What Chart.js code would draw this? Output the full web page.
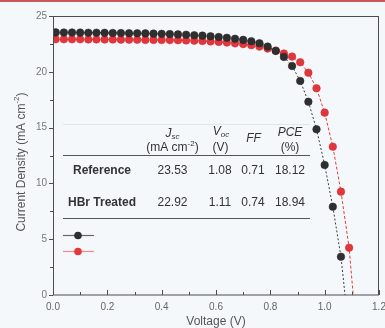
<!DOCTYPE html>
<html>
<head>
<meta charset="utf-8">
<script src="https://cdn.jsdelivr.net/npm/chart.js@4.4.1/dist/chart.umd.min.js"></script>
<style>
  html, body { margin: 0; padding: 0; background: #f5f8fb; }
  #wrap { position: relative; width: 385px; height: 328px; overflow: hidden; }
  #bar { position: absolute; left: 0; top: 0; width: 385px; height: 2px; background: #c9585b; }
  canvas { position: absolute; left: 0; top: 0; }
</style>
</head>
<body>
<div id="wrap">
  <canvas id="jvChart" width="385" height="328"></canvas>
  <div id="bar"></div>
</div>
<script>
// J-V curves, voltage in V, current density in mA cm-2 (last entry = line end at Voc)
const refVoltage = [0.01, 0.04, 0.07, 0.10, 0.13, 0.16, 0.19, 0.22, 0.25, 0.28,
                    0.31, 0.34, 0.37, 0.40, 0.43, 0.46, 0.49, 0.52, 0.55, 0.58,
                    0.61, 0.64, 0.67, 0.70, 0.73, 0.76, 0.79, 0.82, 0.85, 0.88,
                    0.91, 0.94, 0.97, 1.00, 1.03, 1.06, 1.075];
const refCurrent = [23.53, 23.52, 23.52, 23.51, 23.50, 23.50, 23.49, 23.48, 23.47, 23.46,
                    23.45, 23.44, 23.42, 23.40, 23.38, 23.35, 23.32, 23.28, 23.24, 23.18,
                    23.12, 23.05, 22.96, 22.86, 22.74, 22.56, 22.26, 21.87, 21.33, 20.52,
                    19.18, 17.32, 14.85, 11.65, 7.91, 3.43, 0];
const hbrVoltage = [0.01, 0.04, 0.07, 0.10, 0.13, 0.16, 0.19, 0.22, 0.25, 0.28,
                    0.31, 0.34, 0.37, 0.40, 0.43, 0.46, 0.49, 0.52, 0.55, 0.58,
                    0.61, 0.64, 0.67, 0.70, 0.73, 0.76, 0.79, 0.82, 0.85, 0.88,
                    0.91, 0.94, 0.97, 1.00, 1.03, 1.06, 1.09, 1.105];
const hbrCurrent = [22.92, 22.92, 22.91, 22.91, 22.90, 22.90, 22.89, 22.89, 22.88, 22.88,
                    22.87, 22.86, 22.86, 22.85, 22.84, 22.83, 22.81, 22.79, 22.76, 22.72,
                    22.68, 22.62, 22.55, 22.48, 22.38, 22.26, 22.08, 21.90, 21.64, 21.36,
                    20.86, 19.92, 18.52, 16.34, 13.29, 9.26, 4.24, 0];

// axis ticks
const xTickValues = [0, 0.2, 0.4, 0.6, 0.8, 1.0, 1.2];
const xTickLabels = ['0.0', '0.2', '0.4', '0.6', '0.8', '1.0', '1.2'];
const yTickValues = [0, 5, 10, 15, 20, 25];
const yTickLabels = ['0', '5', '10', '15', '20', '25'];

// inset table
const tableSamples = ['Reference', 'HBr Treated'];
const jscValues = ['23.53', '22.92'];
const vocValues = ['1.08', '1.11'];
const ffValues = ['0.71', '0.74'];
const pceValues = ['18.12', '18.94'];

const FONT = '"Liberation Sans", Arial, Helvetica, sans-serif';
const BLACK = '#2f2f2f';
const RED = '#e2363c';

function toPoints(xs, ys) {
    return xs.map((v, i) => ({ x: v, y: ys[i] }));
}

// draws "base" + small sub/superscript pieces, centred at cx
function richText(ctx, parts, cx, cy) {
    let total = 0;
    parts.forEach(p => { ctx.font = p.font; p.w = ctx.measureText(p.t).width; total += p.w; });
    let px = cx - total / 2;
    parts.forEach(p => {
        ctx.font = p.font;
        ctx.fillText(p.t, px, cy + (p.dy || 0));
        px += p.w;
    });
}

const decor = {
    id: 'decor',
    afterDraw(chart) {
        const ctx = chart.ctx;
        const a = chart.chartArea;
        const xs = chart.scales.x;
        const ys = chart.scales.y;
        ctx.save();

        // frame
        ctx.strokeStyle = '#4d4d4d';
        ctx.lineWidth = 1;
        ctx.strokeRect(a.left + 0.5, a.top + 0.5, a.right - a.left - 1, a.bottom - a.top - 0.5);

        // y ticks (outward), majors and minors
        ctx.beginPath();
        yTickValues.forEach((v, i) => {
            const py = Math.round(ys.getPixelForValue(v)) + 0.5;
            ctx.moveTo(a.left - 4, py); ctx.lineTo(a.left, py);
            if (i < yTickValues.length - 1) {
                const pm = Math.round(ys.getPixelForValue((v + yTickValues[i + 1]) / 2)) + 0.5;
                ctx.moveTo(a.left - 3, pm); ctx.lineTo(a.left, pm);
            }
        });
        // x ticks (inward)
        xTickValues.forEach((v, i) => {
            const px = Math.round(xs.getPixelForValue(v)) + 0.5;
            ctx.moveTo(px, a.bottom); ctx.lineTo(px, a.bottom - 5);
            if (i < xTickValues.length - 1) {
                const pm = Math.round(xs.getPixelForValue((v + xTickValues[i + 1]) / 2)) + 0.5;
                ctx.moveTo(pm, a.bottom); ctx.lineTo(pm, a.bottom - 3);
            }
        });
        ctx.stroke();

        // axis titles
        ctx.fillStyle = '#555';
        ctx.textBaseline = 'middle';
        ctx.textAlign = 'left';
        richText(ctx, [{ t: 'Voltage (V)', font: '12px ' + FONT }], 216, 322);
        ctx.save();
        ctx.translate(22, 162);
        ctx.rotate(-Math.PI / 2);
        richText(ctx, [
            { t: 'Current Density (mA cm', font: '12px ' + FONT },
            { t: '-2', font: '8px ' + FONT, dy: -5 },
            { t: ')', font: '12px ' + FONT }
        ], 0, 0);
        ctx.restore();

        // inset table
        ctx.fillStyle = '#333';
        const it = 'italic 12px ' + FONT;
        const sm = 'italic 8px ' + FONT;
        const rg = '12px ' + FONT;
        richText(ctx, [{ t: 'J', font: it }, { t: 'sc', font: sm, dy: 3 }], 172.5, 134);
        richText(ctx, [{ t: '(mA cm', font: rg }, { t: '-2', font: '8px ' + FONT, dy: -4 }, { t: ')', font: rg }], 172.5, 148);
        richText(ctx, [{ t: 'V', font: it }, { t: 'oc', font: sm, dy: 3 }], 221, 132);
        richText(ctx, [{ t: '(V)', font: rg }], 220.5, 148);
        richText(ctx, [{ t: 'FF', font: it }], 253.5, 139);
        richText(ctx, [{ t: 'PCE', font: it }], 290, 132.5);
        richText(ctx, [{ t: '(%)', font: rg }], 290, 148);

        const rowY = [171, 202.5];
        tableSamples.forEach((s, i) => {
            richText(ctx, [{ t: s, font: 'bold 12px ' + FONT }], 102, rowY[i]);
            richText(ctx, [{ t: jscValues[i], font: rg }], 172.5, rowY[i]);
            richText(ctx, [{ t: vocValues[i], font: rg }], 220, rowY[i]);
            richText(ctx, [{ t: ffValues[i], font: rg }], 253, rowY[i]);
            richText(ctx, [{ t: pceValues[i], font: rg }], 290, rowY[i]);
        });

        ctx.strokeStyle = '#e2e6ea';
        ctx.beginPath();
        ctx.moveTo(63, 124.5); ctx.lineTo(310, 124.5);
        ctx.stroke();
        ctx.strokeStyle = '#555';
        ctx.beginPath();
        ctx.moveTo(63, 155.5); ctx.lineTo(310, 155.5);
        ctx.moveTo(63, 218.5); ctx.lineTo(310, 218.5);
        ctx.stroke();

        // legend (symbols only)
        const legend = [[BLACK, '#666', 235.5], [RED, '#f08a8a', 251.5]];
        legend.forEach(([fill, line, ly]) => {
            ctx.strokeStyle = line;
            ctx.lineWidth = 1.2;
            ctx.beginPath();
            ctx.moveTo(63, ly); ctx.lineTo(94, ly);
            ctx.stroke();
            ctx.fillStyle = fill;
            ctx.beginPath();
            ctx.arc(78, ly, 3.8, 0, Math.PI * 2);
            ctx.fill();
        });

        ctx.restore();
    }
};

function lastHidden(n) {
    return ctx => (ctx.dataIndex === n - 1 ? 0 : 3.8);
}

const chart = new Chart(document.getElementById('jvChart'), {
    type: 'scatter',
    data: {
        datasets: [
            {
                label: 'Reference',
                data: toPoints(refVoltage, refCurrent),
                showLine: true,
                borderColor: '#3a3a3a',
                borderWidth: 1,
                borderDash: [2, 2],
                pointRadius: lastHidden(refVoltage.length),
                pointBackgroundColor: BLACK,
                pointBorderColor: '#222',
                pointBorderWidth: 0.5
            },
            {
                label: 'HBr Treated',
                data: toPoints(hbrVoltage, hbrCurrent),
                showLine: true,
                borderColor: '#e23a3f',
                borderWidth: 1,
                borderDash: [3, 2],
                pointRadius: lastHidden(hbrVoltage.length),
                pointBackgroundColor: RED,
                pointBorderColor: '#c92a30',
                pointBorderWidth: 0.5
            }
        ]
    },
    options: {
        responsive: false,
        animation: false,
        events: [],
        layout: { padding: { top: 16, right: 6, left: 0, bottom: 0 } },
        plugins: { legend: { display: false }, tooltip: { enabled: false } },
        scales: {
            x: {
                type: 'linear',
                min: 0,
                max: 1.2,
                grid: { display: false, drawTicks: false },
                border: { display: false },
                afterBuildTicks: s => { s.ticks = xTickValues.map(v => ({ value: v })); },
                ticks: {
                    padding: 6,
                    color: '#666',
                    font: { family: FONT, size: 10 },
                    callback: (v, i) => xTickLabels[i]
                },
                afterFit: s => { s.height = 33; s.paddingLeft = 0; s.paddingRight = 0; }
            },
            y: {
                type: 'linear',
                min: 0,
                max: 25,
                grid: { display: false, drawTicks: false },
                border: { display: false },
                afterBuildTicks: s => { s.ticks = yTickValues.map(v => ({ value: v })); },
                ticks: {
                    padding: 6,
                    color: '#777',
                    font: { family: FONT, size: 10 },
                    callback: (v, i) => yTickLabels[i]
                },
                afterFit: s => { s.width = 53; s.paddingTop = 0; s.paddingBottom = 0; }
            }
        }
    },
    plugins: [decor]
});
</script>
</body>
</html>
